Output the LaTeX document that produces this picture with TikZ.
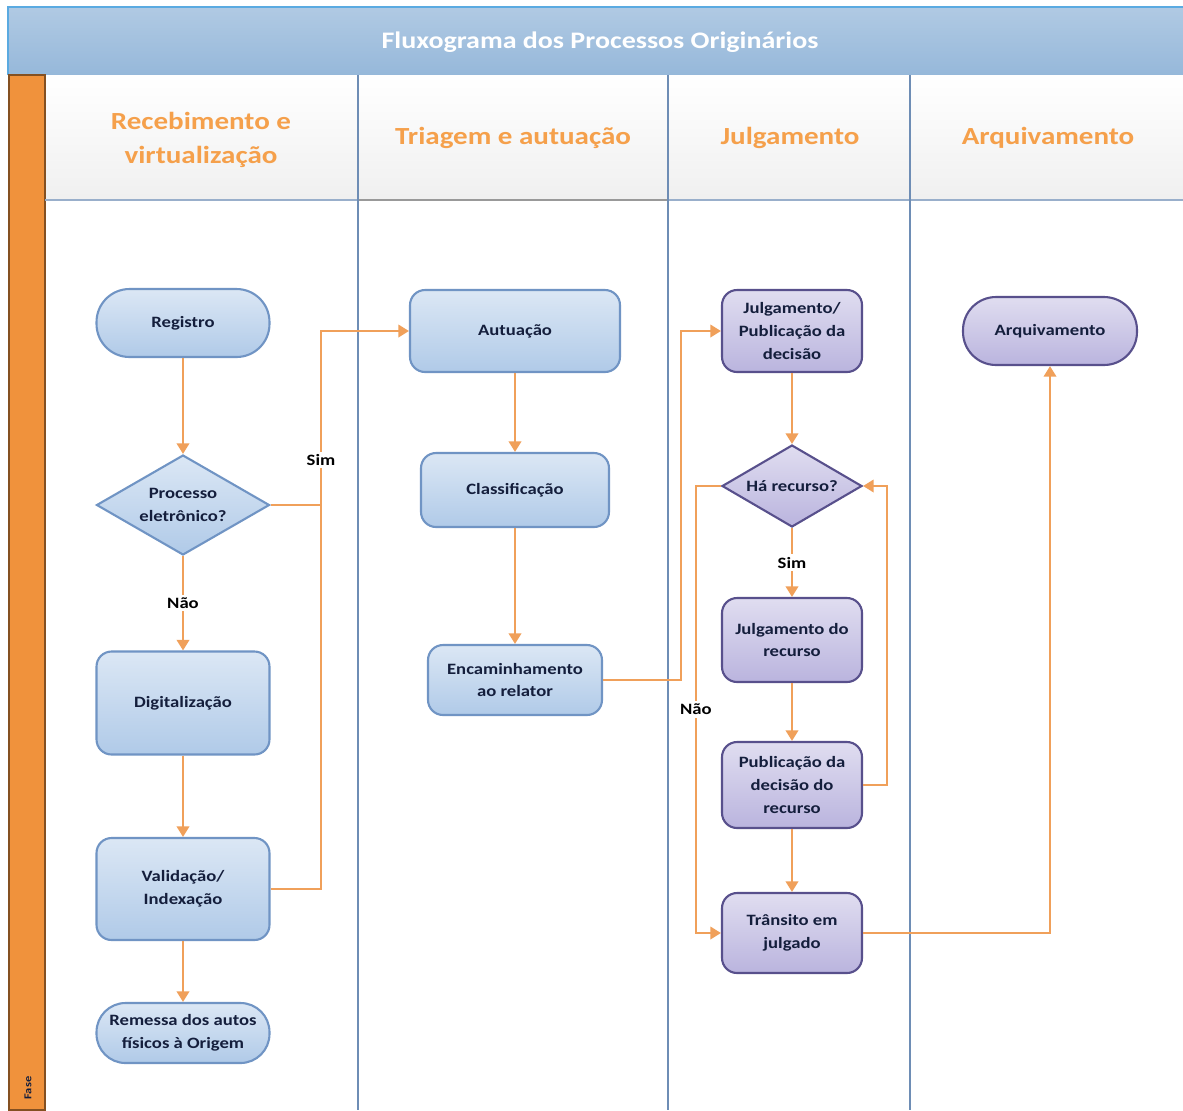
\documentclass[tikz,border=0pt]{standalone}
\usepackage{fontspec}
\setmainfont{Carlito}[FakeStretch=1.18]
\usetikzlibrary{shapes.geometric,arrows.meta}
\definecolor{laneblue}{RGB}{110,141,181}
\definecolor{titleblue}{RGB}{150,184,218}
\definecolor{titleedge}{RGB}{90,170,225}
\definecolor{headorange}{RGB}{245,160,75}
\definecolor{flowline}{RGB}{240,160,90}
\definecolor{boxblue}{RGB}{176,202,232}
\definecolor{boxblueline}{RGB}{112,148,196}
\definecolor{boxpurple}{RGB}{186,180,222}
\definecolor{boxpurpleline}{RGB}{88,80,140}
\definecolor{textnavy}{RGB}{20,30,60}
\definecolor{fasestrip}{RGB}{240,146,60}
\tikzset{
  box/.style={draw, line width=1.2pt, align=center, inner sep=2pt, font=\fontsize{9}{13}\selectfont\bfseries, text=textnavy},
  bluebox/.style={box, draw=boxblueline, top color=boxblue!45!white, bottom color=boxblue},
  purplebox/.style={box, draw=boxpurpleline, top color=boxpurple!45!white, bottom color=boxpurple},
  decision/.style={diamond, aspect=1.7, inner sep=0pt},
  flow/.style={draw=flowline, line width=1.4pt, -{Triangle[width=7pt,length=6pt]}},
  flowjoin/.style={draw=flowline, line width=1.4pt},
  lbl/.style={fill=white, inner sep=1.5pt, font=\fontsize{9}{11}\selectfont\bfseries, text=black},
  lanehead/.style={text=headorange, align=center, font=\fontsize{14}{19.5}\selectfont\bfseries},
  laneline/.style={draw=laneblue, line width=1.6pt}
}
\def\bluenode{\node[bluebox]}
\def\purplenode{\node[purplebox]}

\begin{document}
\begin{tikzpicture}[x=0.02cm,y=-0.02cm]
\useasboundingbox (0,0) rectangle (1183,1110);
\fill[white] (0,0) rectangle (1183,1110);
\shade[top color=titleblue!75!white, bottom color=titleblue] (8,7) rectangle (1183,75);
\draw[titleedge, line width=1.2pt] (8,75) -- (8,7) -- (1183,7);
\node[text=white, font=\fontsize{13.5}{16}\selectfont\bfseries] (title) at (600,42) {Fluxograma dos Processos Originários};
\shade[top color=white, bottom color=gray!12] (45,75) rectangle (1183,200);
\filldraw[fill=fasestrip, draw=fasestrip!55!black, line width=1.2pt] (9,75) rectangle (45,1110);
\node[rotate=90, font=\fontsize{6}{7}\selectfont\bfseries, text=textnavy] (fase) at (28,1088) {Fase};
\draw[draw=laneblue!70, line width=1.2pt] (45,200) -- (358,200);
\draw[draw=gray!80, line width=1.6pt] (358,200) -- (668,200);
\draw[draw=laneblue!70, line width=1.2pt] (668,200) -- (1183,200);
\draw[laneline] (358,75) -- (358,1110);
\draw[laneline] (668,75) -- (668,1110);
\draw[laneline] (910,75) -- (910,1110);
\node[lanehead] (lane1) at (201,140) {Recebimento e\\virtualização};
\node[lanehead] (lane2) at (513,138) {Triagem e autuação};
\node[lanehead] (lane3) at (790,138) {Julgamento};
\node[lanehead] (lane4) at (1048,138) {Arquivamento};

\bluenode[minimum width=3.46cm, minimum height=1.36cm, rounded corners=0.66cm] (reg) at (183,323) {Registro};
\bluenode[decision, minimum width=3.46cm, minimum height=2cm] (elet) at (183,505) {Processo\\eletrônico?};
\bluenode[minimum width=3.46cm, minimum height=2.06cm, rounded corners=0.3cm] (dig) at (183,703) {Digitalização};
\bluenode[minimum width=3.46cm, minimum height=2.04cm, rounded corners=0.3cm] (val) at (183,889) {Validação/\\Indexação};
\bluenode[minimum width=3.46cm, minimum height=1.2cm, rounded corners=0.58cm] (rem) at (183,1033) {Remessa dos autos\\físicos à Origem};

\bluenode[minimum width=4.2cm, minimum height=1.64cm, rounded corners=0.3cm] (aut) at (515,331) {Autuação};
\bluenode[minimum width=3.76cm, minimum height=1.48cm, rounded corners=0.3cm] (cla) at (515,490) {Classificação};
\bluenode[minimum width=3.48cm, minimum height=1.4cm, rounded corners=0.3cm] (enc) at (515,680) {Encaminhamento\\ao relator};

\purplenode[minimum width=2.8cm, minimum height=1.64cm, rounded corners=0.3cm] (jul) at (792,331) {Julgamento/\\Publicação da\\decisão};
\purplenode[decision, minimum width=2.8cm, minimum height=1.64cm] (rec) at (792,486) {Há recurso?};
\purplenode[minimum width=2.8cm, minimum height=1.68cm, rounded corners=0.3cm] (jrec) at (792,640) {Julgamento do\\recurso};
\purplenode[minimum width=2.8cm, minimum height=1.72cm, rounded corners=0.3cm] (pub) at (792,785) {Publicação da\\decisão do\\recurso};
\purplenode[minimum width=2.8cm, minimum height=1.6cm, rounded corners=0.3cm] (tra) at (792,933) {Trânsito em\\julgado};
\purplenode[minimum width=3.48cm, minimum height=1.36cm, rounded corners=0.66cm] (arq) at (1050,331) {Arquivamento};

\coordinate (simjoin) at (321,505);
\draw[flow] (reg) -- (elet);
\draw[flow] (elet) -- node[lbl] {Não} (dig);
\draw[flow] (dig) -- (val);
\draw[flow] (val) -- (rem);
\draw[flow] (elet.east) -- (simjoin) |- node[lbl, pos=0.13] {Sim} (aut.west);
\draw[flowjoin] (val.east) -| (simjoin);
\draw[flow] (aut) -- (cla);
\draw[flow] (cla) -- (enc);
\draw[flow] (enc.east) -- ++(78,0) |- (jul.west);
\draw[flow] (jul) -- (rec);
\draw[flow] (rec) -- node[lbl] {Sim} (jrec);
\draw[flow] (jrec) -- (pub);
\draw[flow] (pub) -- (tra);
\draw[flow] (rec.west) -- ++(-25,0) |- node[lbl, pos=0.25] {Não} (tra.west);
\draw[flow] (pub.east) -- ++(24,0) |- (rec.east);
\draw[flow] (tra.east) -| (arq.south);
\end{tikzpicture}
\end{document}
